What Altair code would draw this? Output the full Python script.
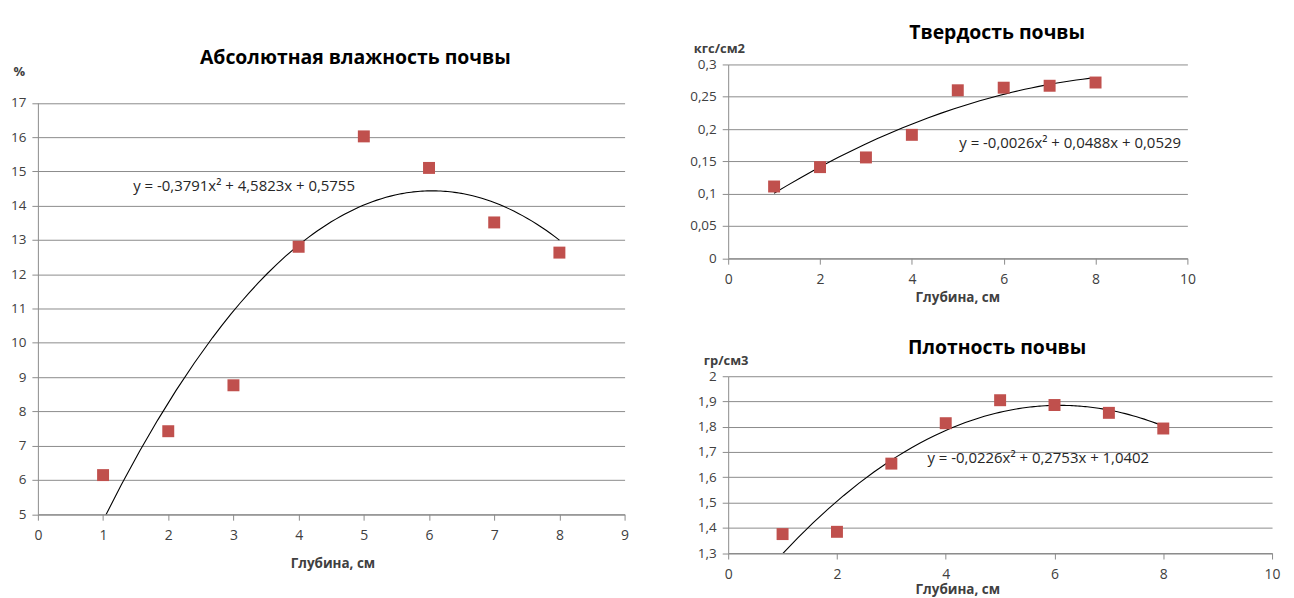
import altair as alt
import pandas as pd

# ---------------- data ----------------
depth = [1, 2, 3, 4, 5, 6, 7, 8]
moisture = [6.14, 7.42, 8.76, 12.80, 16.02, 15.10, 13.51, 12.63]
hardness = [0.111, 0.141, 0.156, 0.191, 0.260, 0.264, 0.267, 0.272]
density = [1.375, 1.384, 1.654, 1.814, 1.905, 1.886, 1.855, 1.793]

chart_titles = ["Абсолютная влажность почвы", "Твердость почвы", "Плотность почвы"]
y_units = ["%", "кгс/см2", "гр/см3"]
x_title = "Глубина, см"
equations = [
    "y = -0,3791x² + 4,5823x + 0,5755",
    "y = -0,0026x² + 0,0488x + 0,0529",
    "y = -0,0226x² + 0,2753x + 1,0402",
]

moisture_y_ticks = [5, 6, 7, 8, 9, 10, 11, 12, 13, 14, 15, 16, 17]
moisture_x_ticks = [0, 1, 2, 3, 4, 5, 6, 7, 8, 9]
hardness_y_ticks = [0, 0.05, 0.1, 0.15, 0.2, 0.25, 0.3]
density_y_ticks = [1.3, 1.4, 1.5, 1.6, 1.7, 1.8, 1.9, 2]
right_x_ticks = [0, 2, 4, 6, 8, 10]

# ---------------- style ----------------
FONT = "Open Sans"
GRID = "#8c8c8c"
LABEL = "#404040"
RED = "#C0504D"
COMMA = "replace(datum.label, '.', ',')"

# page y of the top-right plot top; the left group's origin is aligned to it
L_TOP = 63.0


def x_axis(ticks, tx, ty):
    return alt.Axis(values=ticks, title=x_title, grid=False, domainColor=GRID,
                    tickColor=GRID, tickSize=6, labelPadding=8.5, labelFont=FONT,
                    labelFontSize=14, labelColor=LABEL, labelFlush=False,
                    labelOverlap=False, titleFont=FONT, titleFontSize=13.5,
                    titleFontWeight="bold", titleColor=LABEL, titleX=tx, titleY=ty,
                    titleAlign="center", titleBaseline="middle")


def y_axis(ticks, unit, tx, ty):
    return alt.Axis(values=ticks, title=unit, titleAngle=0, titleX=tx, titleY=ty,
                    titleAlign="left", titleBaseline="middle", titleFont=FONT,
                    titleFontSize=13, titleFontWeight="bold", titleColor=LABEL,
                    grid=True, gridColor=GRID, domainColor=GRID, tickColor=GRID,
                    tickSize=6, labelPadding=6, labelFont=FONT, labelFontSize=13.5,
                    labelColor=LABEL, format="~g", labelExpr=COMMA,
                    labelOverlap=False)


def text_layer(txt, px, py, size, bold, align="center", color="black"):
    return alt.Chart(pd.DataFrame({"t": [txt]})).mark_text(
        font=FONT, fontSize=size, fontWeight="bold" if bold else "normal",
        align=align, baseline="middle", color=color
    ).encode(text="t:N", x=alt.value(px), y=alt.value(py))


def panel(yvals, xdom, ydom, xticks, yticks, unit, title, eq,
          width, height, yrange, title_xy, unit_xy, xtitle_xy, eq_xy):
    df = pd.DataFrame({"x": depth, "y": yvals})
    base = alt.Chart(df)
    xenc = alt.X("x:Q", scale=alt.Scale(domain=xdom, nice=False, zero=False),
                 axis=x_axis(xticks, *xtitle_xy))
    yscale = alt.Scale(domain=ydom, nice=False, zero=False)
    if yrange is not None:
        yscale = alt.Scale(domain=ydom, nice=False, zero=False, range=yrange)
    yenc = alt.Y("y:Q", scale=yscale, axis=y_axis(yticks, unit, *unit_xy))
    trend = base.transform_regression(
        "x", "y", method="poly", order=2, extent=[1, 8]
    ).mark_line(color="black", strokeWidth=1.1, clip=True).encode(x=xenc, y=yenc)
    pts = base.mark_square(size=144, color=RED, opacity=1).encode(x=xenc, y=yenc)
    ttl = text_layer(title, title_xy[0], title_xy[1], 19.5, True)
    eqt = text_layer(eq, eq_xy[0], eq_xy[1], 15, False, align="left", color="#262626")
    return alt.layer(trend, pts, eqt, ttl).properties(width=width, height=height)


# left panel: plot area page x 39.3..628, y 101.5..514.5
LH = 514.5 - L_TOP
left = panel(moisture, [0, 9], [5, 17], moisture_x_ticks, moisture_y_ticks,
             y_units[0], chart_titles[0], equations[0],
             width=589, height=LH, yrange=[LH, 101.5 - L_TOP],
             title_xy=(358 - 39.3, 57 - L_TOP),
             unit_xy=(-25, 70 - L_TOP),
             xtitle_xy=(335 - 39.3, 49.5),
             eq_xy=(135 - 39.3, 185 - L_TOP))

# top right: plot area page x 728..1189.5, y 63..257.5
top = panel(hardness, [0, 10], [0, 0.3], right_x_ticks, hardness_y_ticks,
            y_units[1], chart_titles[1], equations[1],
            width=461, height=194.5, yrange=None,
            title_xy=(998 - 728, 31.5 - 63),
            unit_xy=(-35, -16),
            xtitle_xy=(958 - 728, 39.5),
            eq_xy=(960 - 728, 142.3 - 63))

# bottom right: plot area page x 727..1275, y 375..552.5
bottom = panel(density, [0, 10], [1.3, 2], right_x_ticks, density_y_ticks,
               y_units[2], chart_titles[2], equations[2],
               width=546, height=177.5, yrange=None,
               title_xy=(998 - 728, 347 - 375),
               unit_xy=(-25, -16),
               xtitle_xy=(958 - 728, 37),
               eq_xy=(928 - 728, 456.7 - 375))

right = alt.vconcat(top, bottom, spacing=34)

chart = alt.hconcat(left, right, spacing=60).properties(
    padding={"top": 13.5, "left": 2, "right": 5, "bottom": 5},
    background="white",
).configure_view(stroke=None)

chart.save("out.html", embed_options={"renderer": "svg", "actions": False})
